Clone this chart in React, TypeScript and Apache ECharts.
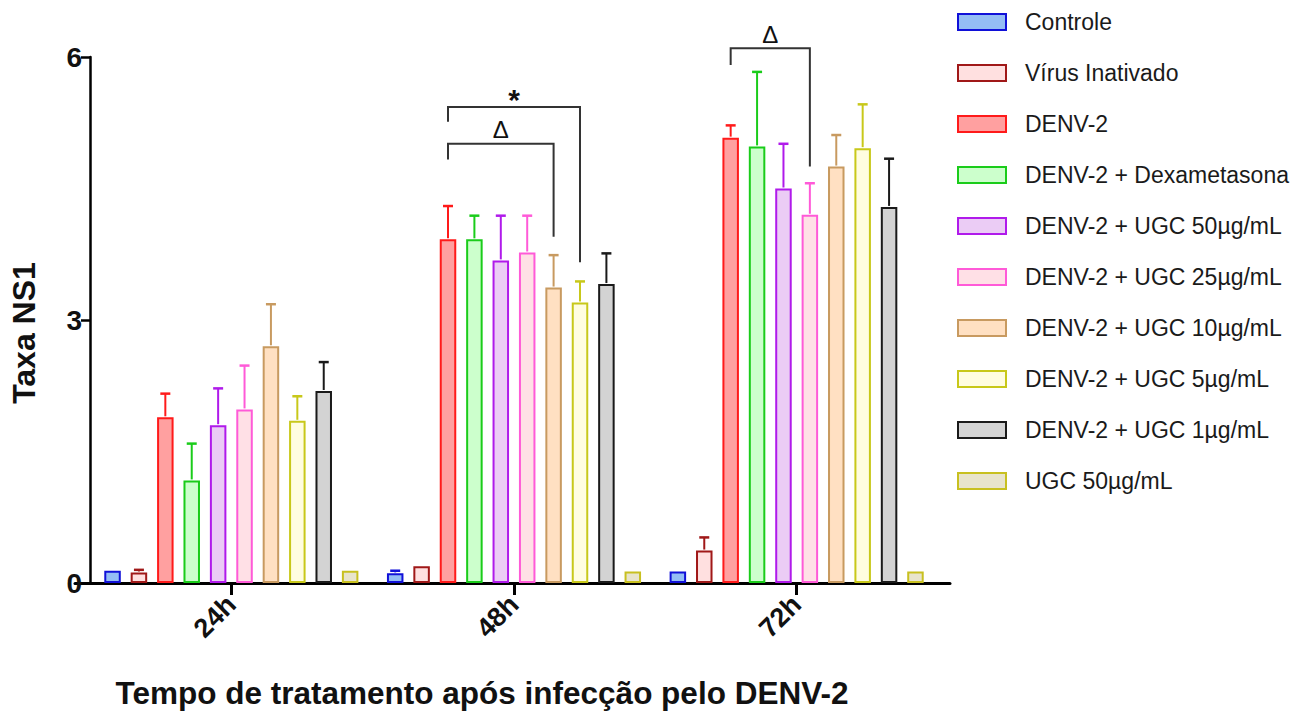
import React, { useEffect, useRef } from "react";
import * as echarts from "echarts";

const categories = ["24h", "48h", "72h"];

const seriesNames = [
  "Controle",
  "Vírus Inativado",
  "DENV-2",
  "DENV-2 + Dexametasona",
  "DENV-2 + UGC 50µg/mL",
  "DENV-2 + UGC 25µg/mL",
  "DENV-2 + UGC 10µg/mL",
  "DENV-2 + UGC 5µg/mL",
  "DENV-2 + UGC 1µg/mL",
  "UGC 50µg/mL",
];

const controle = [0.14, 0.11, 0.13];
const controleErr = [0, 0.03, 0];
const virusInativado = [0.12, 0.19, 0.37];
const virusInativadoErr = [0.03, 0, 0.15];
const denv2 = [1.89, 3.92, 5.08];
const denv2Err = [0.27, 0.38, 0.14];
const dexametasona = [1.17, 3.92, 4.98];
const dexametasonaErr = [0.42, 0.27, 0.85];
const ugc50 = [1.8, 3.68, 4.5];
const ugc50Err = [0.42, 0.51, 0.51];
const ugc25 = [1.98, 3.77, 4.2];
const ugc25Err = [0.5, 0.42, 0.36];
const ugc10 = [2.7, 3.37, 4.75];
const ugc10Err = [0.48, 0.37, 0.36];
const ugc5 = [1.85, 3.2, 4.96];
const ugc5Err = [0.28, 0.24, 0.5];
const ugc1 = [2.19, 3.41, 4.29];
const ugc1Err = [0.33, 0.35, 0.55];
const ugc50Only = [0.14, 0.13, 0.13];
const ugc50OnlyErr = [0, 0, 0];

const yTicks = [0, 3, 6];

// significance brackets
const bracketCat = [1, 1, 2];
const bracketLeft = [2, 2, 2];
const bracketRight = [7, 6, 5];
const bracketTop = [5.43, 5.01, 6.1];
const bracketLeftEnd = [5.26, 4.83, 5.91];
const bracketRightEnd = [3.66, 3.95, 4.75];
const bracketMark = ["*", "Δ", "Δ"];

const allMeans = [controle, virusInativado, denv2, dexametasona, ugc50, ugc25, ugc10, ugc5, ugc1, ugc50Only];
const allErrs = [controleErr, virusInativadoErr, denv2Err, dexametasonaErr, ugc50Err, ugc25Err, ugc10Err, ugc5Err, ugc1Err, ugc50OnlyErr];

const fills = ["#94BDF5", "#FFE0E0", "#FFA0A0", "#CCFFCC", "#EBCCF5", "#FFE0E6", "#FFE0C2", "#FFFDE0", "#D3D3D3", "#E8E4CC"];
const borders = ["#1010D8", "#A01818", "#FF1A1A", "#1ACC1A", "#B01AEB", "#FF5AD8", "#C89A60", "#C8C81A", "#1A1A1A", "#C8C020"];

const BAR_WIDTH = 16.5;
const BAR_GAP = 0.6;
const BAR_STEP = BAR_WIDTH * (1 + BAR_GAP);
const N = seriesNames.length;
const FONT = "'Liberation Sans', Arial, Helvetica, sans-serif";

export default function App() {
  const ref = useRef<HTMLDivElement>(null);

  useEffect(() => {
    if (!ref.current) return;
    const chart = echarts.init(ref.current, undefined, { renderer: "svg" });

    const barSeries = seriesNames.map((name, i) => ({
      name,
      type: "bar",
      xAxisIndex: 0,
      yAxisIndex: 0,
      barWidth: BAR_WIDTH,
      barGap: `${BAR_GAP * 100}%`,
      data: allMeans[i],
      itemStyle: { color: fills[i], borderColor: borders[i], borderWidth: 2 },
      z: 3,
    }));

    const errData: number[][] = [];
    allMeans.forEach((arr, s) => {
      arr.forEach((v, c) => {
        if (allErrs[s][c] > 0) errData.push([c, v, allErrs[s][c], s]);
      });
    });

    const errSeries = {
      type: "custom",
      xAxisIndex: 0,
      yAxisIndex: 0,
      z: 4,
      silent: true,
      encode: { x: 0, y: 1 },
      data: errData,
      renderItem: (params: any, api: any) => {
        const c = api.value(0);
        const v = api.value(1);
        const e = api.value(2);
        const s = api.value(3);
        const base = api.coord([c, v]);
        const top = api.coord([c, v + e]);
        const x = base[0] + (s - (N - 1) / 2) * BAR_STEP;
        const color = borders[s];
        return {
          type: "group",
          children: [
            { type: "line", shape: { x1: x, y1: base[1] - 1, x2: x, y2: top[1] }, style: { stroke: color, lineWidth: 2 } },
            { type: "line", shape: { x1: x - 5, y1: top[1], x2: x + 5, y2: top[1] }, style: { stroke: color, lineWidth: 2.5 } },
          ],
        };
      },
    };

    const bracketData = bracketCat.map((c, i) => [c, bracketLeft[i], bracketRight[i], bracketTop[i], bracketLeftEnd[i], bracketRightEnd[i], i]);

    const bracketSeries = {
      type: "custom",
      xAxisIndex: 0,
      yAxisIndex: 0,
      z: 5,
      silent: true,
      clip: false,
      encode: { x: 0, y: 3 },
      data: bracketData,
      renderItem: (params: any, api: any) => {
        const c = api.value(0);
        const l = api.value(1);
        const r = api.value(2);
        const topY = api.coord([c, api.value(3)])[1];
        const lY = api.coord([c, api.value(4)])[1];
        const rY = api.coord([c, api.value(5)])[1];
        const cx = api.coord([c, 0])[0];
        const xl = cx + (l - (N - 1) / 2) * BAR_STEP;
        const xr = cx + (r - (N - 1) / 2) * BAR_STEP;
        const mark = bracketMark[api.value(6)];
        const isStar = mark === "*";
        return {
          type: "group",
          children: [
            {
              type: "polyline",
              shape: { points: [[xl, lY], [xl, topY], [xr, topY], [xr, rY]] },
              style: { stroke: "#333333", lineWidth: 2, fill: "none" },
            },
            {
              type: "text",
              x: (xl + xr) / 2,
              y: isStar ? topY + 8 : topY - 2,
              style: {
                text: mark,
                fill: "#111",
                font: isStar ? `bold 30px ${FONT}` : `24px ${FONT}`,
                textAlign: "center",
                textVerticalAlign: "bottom",
              },
            },
          ],
        };
      },
    };

    const option: any = {
      animation: false,
      backgroundColor: "#ffffff",
      textStyle: { fontFamily: FONT },
      legend: {
        orient: "vertical",
        left: 952,
        top: 5,
        itemWidth: 48,
        itemHeight: 16,
        itemGap: 27,
        icon: "rect",
        data: seriesNames,
        selectedMode: false,
        textStyle: { fontSize: 23, color: "#1a1a1a", fontFamily: FONT, lineHeight: 24, padding: [0, 0, 0, 14] },
      },
      grid: [
        { left: 87, right: 365, top: 57, bottom: 131 },
        { left: 75, right: 353, top: 57, bottom: 131 },
      ],
      xAxis: [
        {
          type: "category",
          gridIndex: 0,
          data: categories,
          axisLine: { show: false },
          axisTick: { show: true, alignWithLabel: true, length: 12, lineStyle: { color: "#000", width: 3 } },
          axisLabel: { rotate: 45, fontSize: 27, fontWeight: "bold", color: "#111", margin: 17, fontFamily: FONT },
          name: "Tempo de tratamento após infecção pelo DENV-2",
          nameLocation: "middle",
          nameGap: 94,
          nameTextStyle: { fontSize: 31.5, fontWeight: "bold", color: "#111", fontFamily: FONT, padding: [0, 64, 0, 0] },
        },
        {
          type: "value",
          gridIndex: 1,
          min: 0,
          max: 1,
          axisLine: { show: true, onZero: false, lineStyle: { color: "#000", width: 3 } },
          axisTick: { show: false },
          axisLabel: { show: false },
          splitLine: { show: false },
        },
      ],
      yAxis: [
        {
          type: "value",
          gridIndex: 0,
          min: yTicks[0],
          max: yTicks[yTicks.length - 1],
          interval: 3,
          axisLine: { show: true, lineStyle: { color: "#000", width: 2.5 } },
          axisTick: { show: true, length: 9, lineStyle: { color: "#000", width: 2.5 } },
          axisLabel: { fontSize: 28, fontWeight: "bold", color: "#111", margin: 8, fontFamily: FONT },
          splitLine: { show: false },
          name: "Taxa NS1",
          nameLocation: "middle",
          nameGap: 50,
          nameTextStyle: { fontSize: 32, fontWeight: "bold", color: "#111", fontFamily: FONT, padding: [0, 26, 0, 0] },
        },
        { type: "value", gridIndex: 1, show: false, min: 0, max: 1 },
      ],
      series: [...barSeries, errSeries, bracketSeries],
    };

    chart.setOption(option);
    return () => chart.dispose();
  }, []);

  return (
    <div
      ref={ref}
      style={{ position: "fixed", left: 0, top: 0, width: 1303, height: 714, background: "#fff" }}
    />
  );
}
